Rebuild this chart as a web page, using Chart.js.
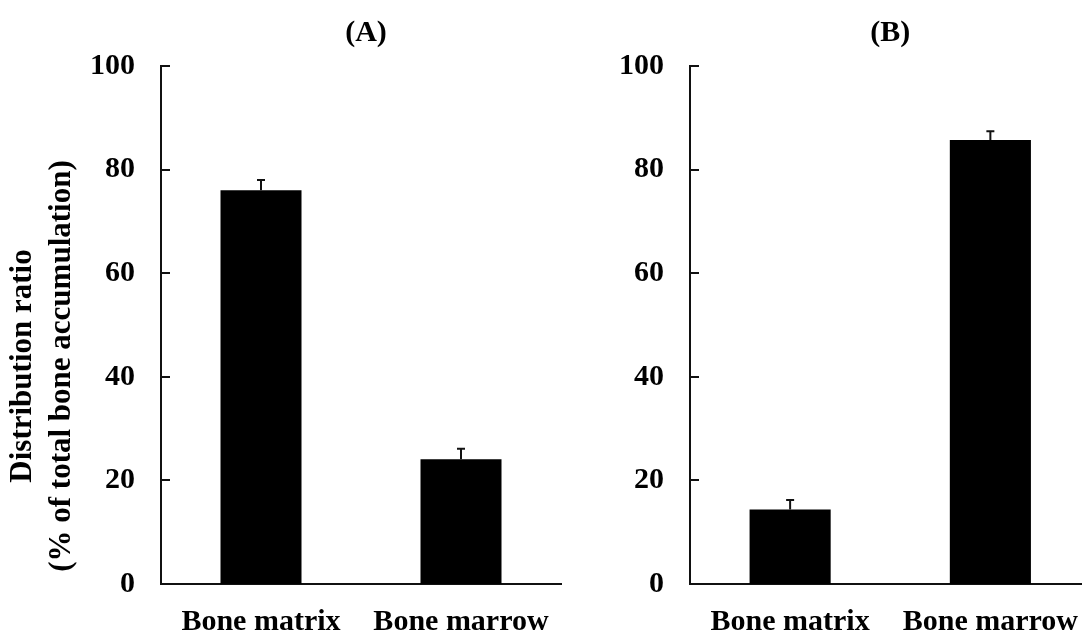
<!DOCTYPE html>
<html>
<head>
<meta charset="utf-8">
<script src="https://cdn.jsdelivr.net/npm/chart.js@4.4.1/dist/chart.umd.min.js"></script>
<style>
  html, body { margin: 0; padding: 0; background: #fff; overflow: hidden; width: 1082px; height: 632px; }
  canvas { position: absolute; top: 0; }
  #chartA { left: 0; }
  #chartB { left: 575px; }
</style>
</head>
<body>
<canvas id="chartA" width="575" height="632"></canvas>
<canvas id="chartB" width="525" height="632"></canvas>
<script>
// Bone distribution ratio, two panels
const categories = ['Bone matrix', 'Bone marrow'];
const yTickValues = [0, 20, 40, 60, 80, 100];

const panelAValues = [76.0, 24.1];
const panelAErrors = [2.0, 2.0];

const panelBValues = [14.4, 85.7];
const panelBErrors = [1.8, 1.7];

const yTitleLines = ['Distribution ratio', '(% of total bone accumulation)'];

const FONT_FAMILY = "'Liberation Serif', 'Times New Roman', Times, serif";
const INK = '#111';

// Error bars, inward tick marks, panel title and y-axis title
const panelDecor = {
  id: 'panelDecor',
  afterDatasetsDraw(chart, args, opts) {
    const ctx = chart.ctx;
    const ys = chart.scales.y;
    const meta = chart.getDatasetMeta(0);
    const values = chart.data.datasets[0].data;
    ctx.save();
    ctx.strokeStyle = INK;
    ctx.lineWidth = 2;
    ctx.beginPath();
    meta.data.forEach((bar, i) => {
      const top = ys.getPixelForValue(values[i]);
      const cap = ys.getPixelForValue(values[i] + opts.errors[i]);
      ctx.moveTo(bar.x, top);
      ctx.lineTo(bar.x, cap);
      ctx.moveTo(bar.x - 4, cap);
      ctx.lineTo(bar.x + 4, cap);
    });
    ys.ticks.forEach((t, i) => {
      const py = Math.round(ys.getPixelForTick(i));
      ctx.moveTo(ys.right, py);
      ctx.lineTo(ys.right + 9, py);
    });
    ctx.stroke();

    ctx.fillStyle = '#000';
    ctx.font = 'bold 30px ' + FONT_FAMILY;
    ctx.textAlign = 'center';
    ctx.textBaseline = 'middle';
    const area = chart.chartArea;
    ctx.fillText(opts.title, (area.left + area.right) / 2 + opts.titleShift, opts.titleY);

    if (opts.showYTitle) {
      ctx.font = 'bold 31px ' + FONT_FAMILY;
      ctx.translate(0, opts.yTitleCenter);
      ctx.rotate(-Math.PI / 2);
      yTitleLines.forEach((line, i) => {
        ctx.fillText(line, 0, opts.yTitleX[i]);
      });
    }
    ctx.restore();
  }
};

function buildChart(canvasId, values, errors, title, extra) {
  return new Chart(document.getElementById(canvasId), {
    type: 'bar',
    data: {
      labels: categories,
      datasets: [{
        data: values,
        backgroundColor: '#000',
        borderColor: '#000',
        borderWidth: 0,
        categoryPercentage: 1.0,
        barPercentage: 0.405
      }]
    },
    options: {
      responsive: false,
      animation: false,
      events: [],
      layout: { padding: { left: 0, right: extra.padRight, top: 66, bottom: 0 } },
      plugins: {
        legend: { display: false },
        tooltip: { enabled: false },
        title: { display: false },
        panelDecor: Object.assign({ errors: errors, title: title }, extra.decor)
      },
      scales: {
        x: {
          grid: { display: false, drawTicks: false },
          border: { display: true, color: INK, width: 2 },
          ticks: {
            color: '#000',
            padding: 20,
            maxRotation: 0,
            font: { family: FONT_FAMILY, size: 30, weight: 'bold' }
          },
          afterFit(scale) { scale.height = 48; }
        },
        y: {
          min: 0,
          max: 100,
          afterBuildTicks(scale) { scale.ticks = yTickValues.map(v => ({ value: v })); },
          grid: { display: false, drawTicks: false },
          border: { display: true, color: INK, width: 2 },
          ticks: {
            color: '#000',
            padding: 26,
            font: { family: FONT_FAMILY, size: 30, weight: 'bold' },
            callback: (v) => String(v)
          },
          afterFit(scale) { scale.width = extra.axisWidth; }
        }
      }
    },
    plugins: [panelDecor]
  });
}

buildChart('chartA', panelAValues, panelAErrors, '(A)', {
  padRight: 14,
  axisWidth: 161,
  decor: { titleShift: 5, titleY: 33, showYTitle: true, yTitleCenter: 366, yTitleX: [23, 62] }
});

buildChart('chartB', panelBValues, panelBErrors, '(B)', {
  padRight: 8,
  axisWidth: 115,
  decor: { titleShift: 0, titleY: 33, showYTitle: false }
});
</script>
</body>
</html>
